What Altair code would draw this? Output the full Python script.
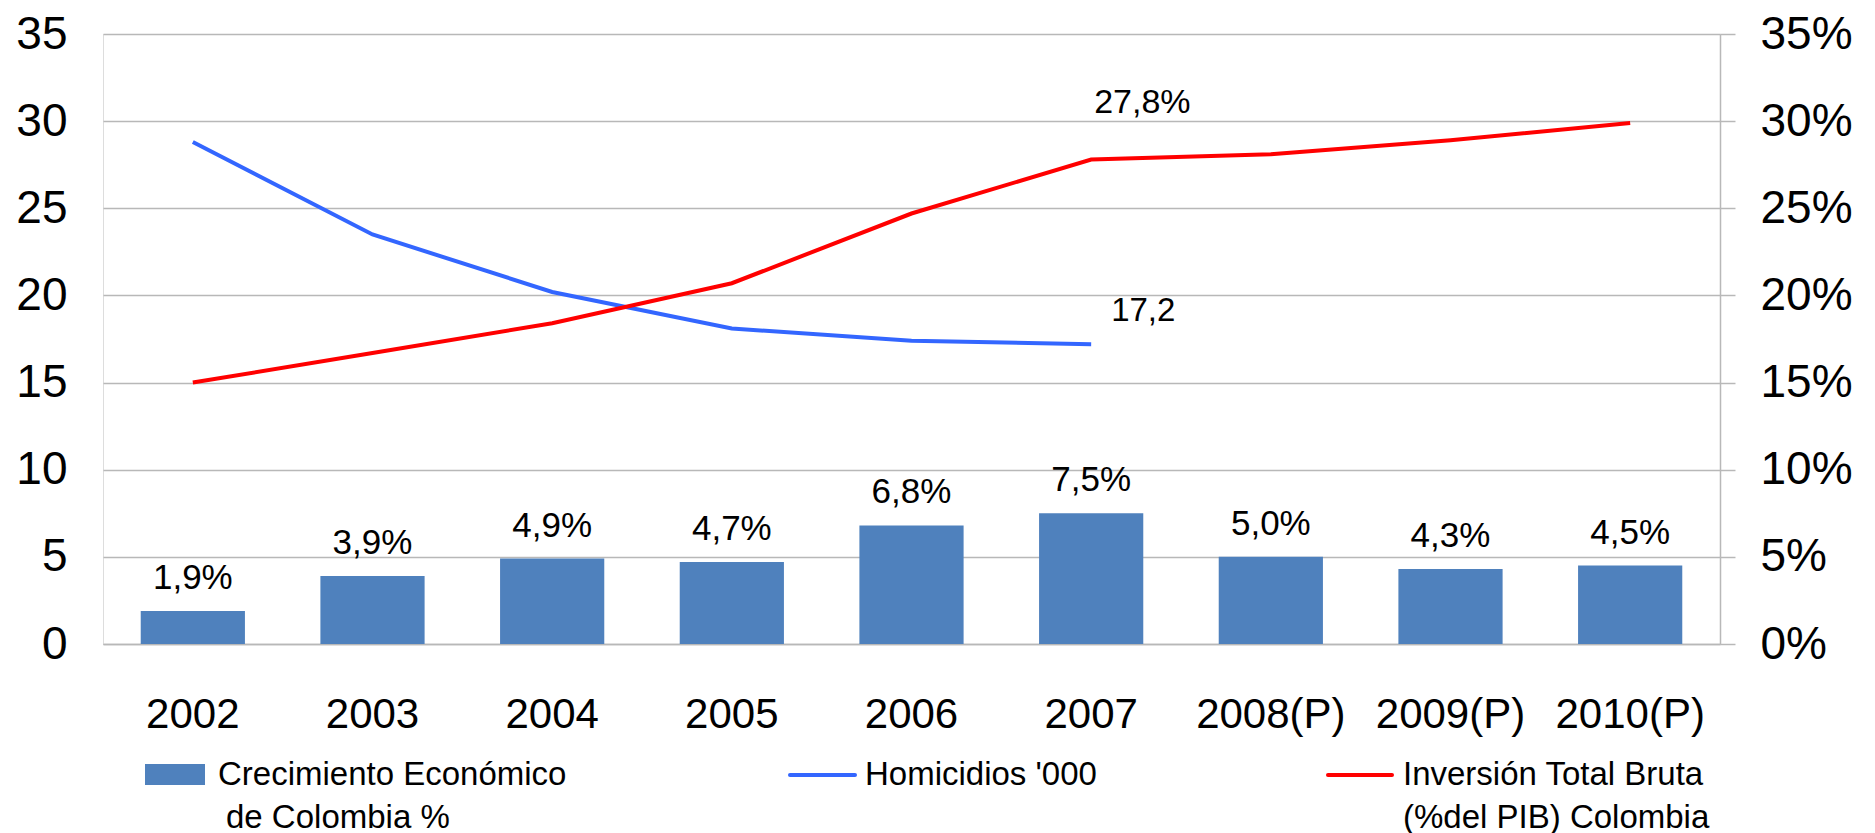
import altair as alt
import pandas as pd

years = ["2002", "2003", "2004", "2005", "2006", "2007", "2008(P)", "2009(P)", "2010(P)"]
growth = [1.9, 3.9, 4.9, 4.7, 6.8, 7.5, 5.0, 4.3, 4.5]
homicides = [28.8, 23.5, 20.2, 18.1, 17.4, 17.2, None, None, None]
investment = [0.150, 0.167, 0.184, 0.207, 0.247, 0.278, 0.281, 0.289, 0.299]

series_names = ["Crecimiento Económico", "de Colombia %", "Homicidios '000",
                "Inversión Total Bruta", "(%del PIB) Colombia"]

df = pd.DataFrame({
    "year": years,
    "growth": growth,
    "homicides": homicides,
    "investment": investment,
})
df["growth_label"] = [f"{v:.1f}".replace(".", ",") + "%" for v in growth]
df["hom_label"] = [("" if v is None or pd.isna(v) else f"{v:.1f}".replace(".", ",")) for v in df["homicides"]]
df["inv_label"] = [f"{v*100:.1f}".replace(".", ",") + "%" for v in investment]

FONT = "Liberation Sans"
BAR = "#4f81bd"
BLUE = "#3366ff"
RED = "#ff0000"
GRID = "#b8b8b8"

x_axis = alt.Axis(labelAngle=0, labelFontSize=42, labelFont=FONT, labelColor="black",
                  ticks=False, tickSize=0, labelPadding=50, domainColor=GRID,
                  domainWidth=1.5, grid=False)
xenc = alt.X("year:N", sort=years, title=None,
             scale=alt.Scale(paddingInner=0.42, paddingOuter=0.21), axis=x_axis)

left_scale = alt.Scale(domain=[0, 35], nice=False, zero=True)
right_scale = alt.Scale(domain=[0, 0.35], nice=False, zero=True)

base = alt.Chart(df)

bars = base.mark_bar(color=BAR).encode(
    x=xenc,
    y=alt.Y("growth:Q", scale=left_scale, title=None,
            axis=alt.Axis(values=[0, 5, 10, 15, 20, 25, 30, 35], labelFontSize=46,
                          labelFont=FONT, labelColor="black", domain=False, ticks=False,
                          tickSize=0, labelPadding=36, grid=True, gridColor=GRID,
                          gridWidth=1.3)),
)

bar_text = base.mark_text(fontSize=35, font=FONT, color="black", align="center",
                          baseline="alphabetic", dy=-22).encode(
    x=xenc,
    y=alt.Y("growth:Q", scale=left_scale, axis=None),
    text="growth_label:N",
)

hom_line = base.mark_line(color=BLUE, strokeWidth=4).encode(
    x=xenc,
    y=alt.Y("homicides:Q", scale=left_scale, axis=None),
)

hom_text = base.transform_filter(alt.datum.year == "2007").mark_text(
    fontSize=33, font=FONT, color="black", align="left", baseline="alphabetic",
    dx=20, dy=-23).encode(
    x=xenc,
    y=alt.Y("homicides:Q", scale=left_scale, axis=None),
    text="hom_label:N",
)

inv_line = base.mark_line(color=RED, strokeWidth=4).encode(
    x=xenc,
    y=alt.Y("investment:Q", scale=right_scale, title=None,
            axis=alt.Axis(orient="right", values=[0, 0.05, 0.1, 0.15, 0.2, 0.25, 0.3, 0.35],
                          format=".0%", labelFontSize=46, labelFont=FONT, labelColor="black",
                          domain=True, domainColor=GRID, domainWidth=1.5, ticks=True,
                          tickSize=15, tickColor=GRID, tickWidth=1.5, labelPadding=25,
                          grid=False)),
)

inv_text = base.transform_filter(alt.datum.year == "2007").mark_text(
    fontSize=34, font=FONT, color="black", align="left", baseline="alphabetic",
    dx=3, dy=-46).encode(
    x=xenc,
    y=alt.Y("investment:Q", scale=right_scale, axis=None),
    text="inv_label:N",
)

# legend (drawn manually)
one = pd.DataFrame({"k": [0]})
leg_rect = alt.Chart(one).mark_rect(color=BAR).encode(
    x=alt.value(42), x2=alt.value(102), y=alt.value(730), y2=alt.value(751))
leg_blue = alt.Chart(one).mark_rule(color=BLUE, strokeWidth=4, strokeCap="round").encode(
    x=alt.value(687), x2=alt.value(752), y=alt.value(741))
leg_red = alt.Chart(one).mark_rule(color=RED, strokeWidth=4, strokeCap="round").encode(
    x=alt.value(1225), x2=alt.value(1289), y=alt.value(741))


def leg_text(txt, x, y):
    return alt.Chart(one).mark_text(text=txt, fontSize=33, font=FONT, color="black",
                                    align="left", baseline="alphabetic").encode(
        x=alt.value(x), y=alt.value(y))


legend_layers = [
    leg_rect, leg_blue, leg_red,
    leg_text(series_names[0], 115, 751),
    leg_text(series_names[1], 123, 794),
    leg_text(series_names[2], 762, 751),
    leg_text(series_names[3], 1300, 751),
    leg_text(series_names[4], 1300, 794),
]

chart = alt.layer(
    bars, bar_text, hom_line, inv_line, hom_text, inv_text, *legend_layers
).resolve_scale(y="independent").properties(
    width=1617, height=610,
    padding={"left": 7, "top": 3, "right": 5, "bottom": 0},
).configure_view(stroke=None).configure(background="white")

chart.save("out.html", embed_options={"renderer": "svg", "actions": False})
